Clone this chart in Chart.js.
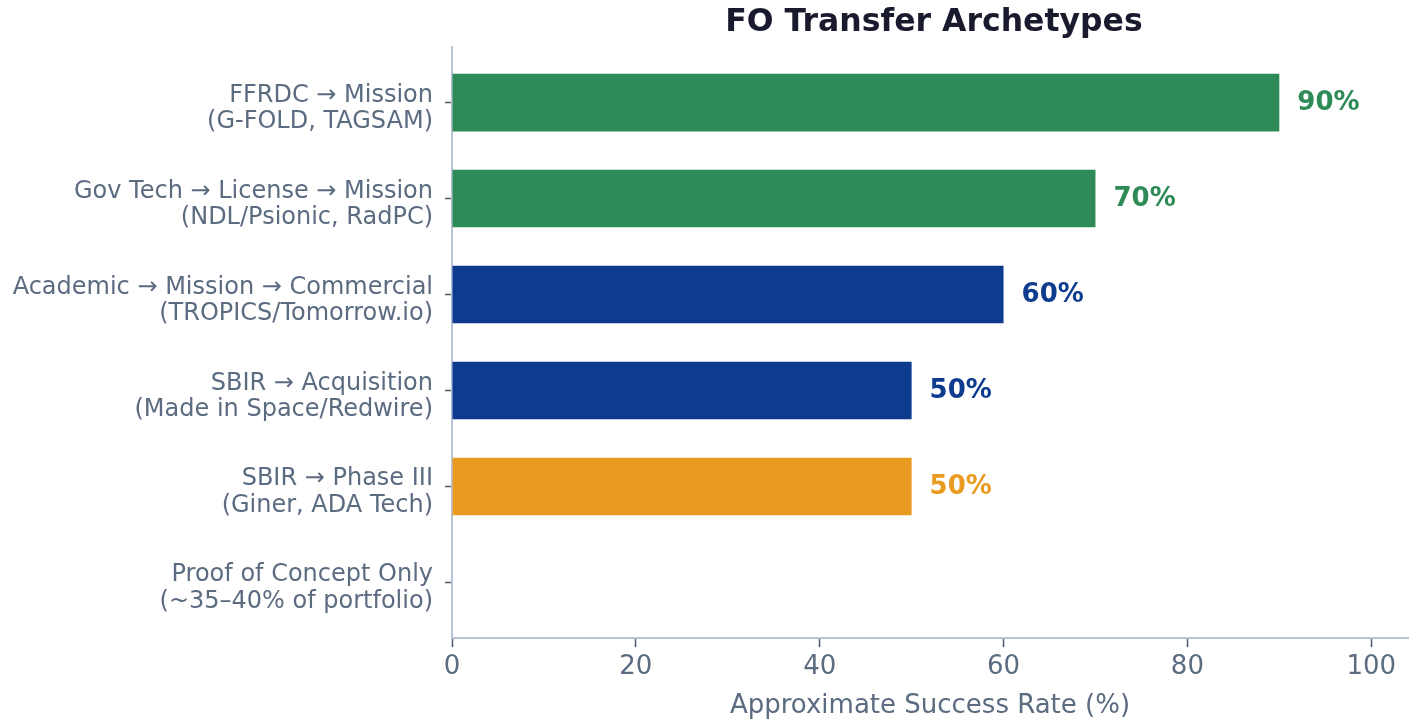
<!DOCTYPE html>
<html>
<head>
<meta charset="utf-8">
<script src="https://cdn.jsdelivr.net/npm/chart.js@4.4.1/dist/chart.umd.min.js"></script>
<style>
  html, body { margin: 0; padding: 0; background: #ffffff; }
  #wrap { width: 1409px; height: 722px; }
</style>
</head>
<body>
<div id="wrap"><canvas id="c" width="1409" height="722"></canvas></div>
<script>
const chartTitle = "FO Transfer Archetypes";
const categories = [
  ["FFRDC \u2192 Mission", "(G-FOLD, TAGSAM)"],
  ["Gov Tech \u2192 License \u2192 Mission", "(NDL/Psionic, RadPC)"],
  ["Academic \u2192 Mission \u2192 Commercial", "(TROPICS/Tomorrow.io)"],
  ["SBIR \u2192 Acquisition", "(Made in Space/Redwire)"],
  ["SBIR \u2192 Phase III", "(Giner, ADA Tech)"],
  ["Proof of Concept Only", "(~35\u201340% of portfolio)"]
];
const successRates = [90, 70, 60, 50, 50, null];
const barColors = ["#2e8b57", "#2e8b57", "#0d3b8e", "#0d3b8e", "#e89b20", "#888888"];
const xTicks = [0, 20, 40, 60, 80, 100];
const xAxisTitle = "Approximate Success Rate (%)";

const textGrey = "#5b6b80";
const FONT = "'DejaVu Sans', sans-serif";

const dataPoints = categories.map((c, i) => ({ x: successRates[i], y: i }));

const valueLabels = {
  id: "valueLabels",
  afterDatasetsDraw(chart) {
    const ctx = chart.ctx;
    const meta = chart.getDatasetMeta(0);
    ctx.save();
    ctx.font = "bold 26px " + FONT;
    ctx.textBaseline = "middle";
    ctx.textAlign = "left";
    meta.data.forEach((bar, i) => {
      const v = successRates[i];
      if (v === null || v === undefined) return;
      ctx.fillStyle = barColors[i];
      ctx.fillText(v + "%", bar.x + 18, bar.y + 1);
    });
    ctx.restore();
  }
};

const titlePlugin = {
  id: "titlePlugin",
  afterDraw(chart) {
    const ctx = chart.ctx;
    const a = chart.chartArea;
    ctx.save();
    ctx.font = "bold 31.5px " + FONT;
    ctx.fillStyle = "#1a1a2e";
    ctx.textAlign = "center";
    ctx.textBaseline = "middle";
    ctx.fillText(chartTitle, (a.left + a.right) / 2 + 4, 23);
    ctx.restore();
  }
};

new Chart(document.getElementById("c"), {
  type: "bar",
  data: {
    datasets: [{
      data: dataPoints,
      backgroundColor: barColors,
      borderWidth: 0,
      barPercentage: 0.6,
      categoryPercentage: 1.0
    }]
  },
  options: {
    indexAxis: "y",
    responsive: false,
    animation: false,
    devicePixelRatio: 1,
    layout: { padding: { top: 47, right: 1, left: 0, bottom: 0 } },
    plugins: {
      legend: { display: false },
      tooltip: { enabled: false },
      title: { display: false }
    },
    scales: {
      x: {
        type: "linear",
        min: 0,
        max: 104,
        offset: false,
        afterBuildTicks(scale) { scale.ticks = xTicks.map(v => ({ value: v })); },
        afterFit(scale) { scale.height = 84; },
        border: { display: true, color: "#b7c3d6", width: 2 },
        grid: { offset: false, drawOnChartArea: false, drawTicks: true, tickLength: 9, tickColor: "#4a5568", tickWidth: 1.5 },
        ticks: { color: textGrey, font: { family: FONT, size: 26 }, padding: 5 },
        title: { display: true, text: xAxisTitle, color: textGrey, font: { family: FONT, size: 26 }, padding: { top: 3, bottom: 0 } }
      },
      y: {
        type: "linear",
        reverse: true,
        min: -0.58,
        max: 5.58,
        offset: false,
        afterBuildTicks(scale) { scale.ticks = categories.map((c, i) => ({ value: i })); },
        afterFit(scale) { scale.width = 452; },
        border: { display: true, color: "#b7c3d6", width: 2 },
        grid: { offset: false, drawOnChartArea: false, drawTicks: true, tickLength: 7, tickColor: "#4a5568", tickWidth: 1.5 },
        ticks: {
          color: textGrey,
          font: { family: FONT, size: 24, lineHeight: 1.1 },
          padding: 12,
          labelOffset: 6,
          callback(value) { return categories[value] || ""; }
        }
      }
    }
  },
  plugins: [valueLabels, titlePlugin]
});
</script>
</body>
</html>
